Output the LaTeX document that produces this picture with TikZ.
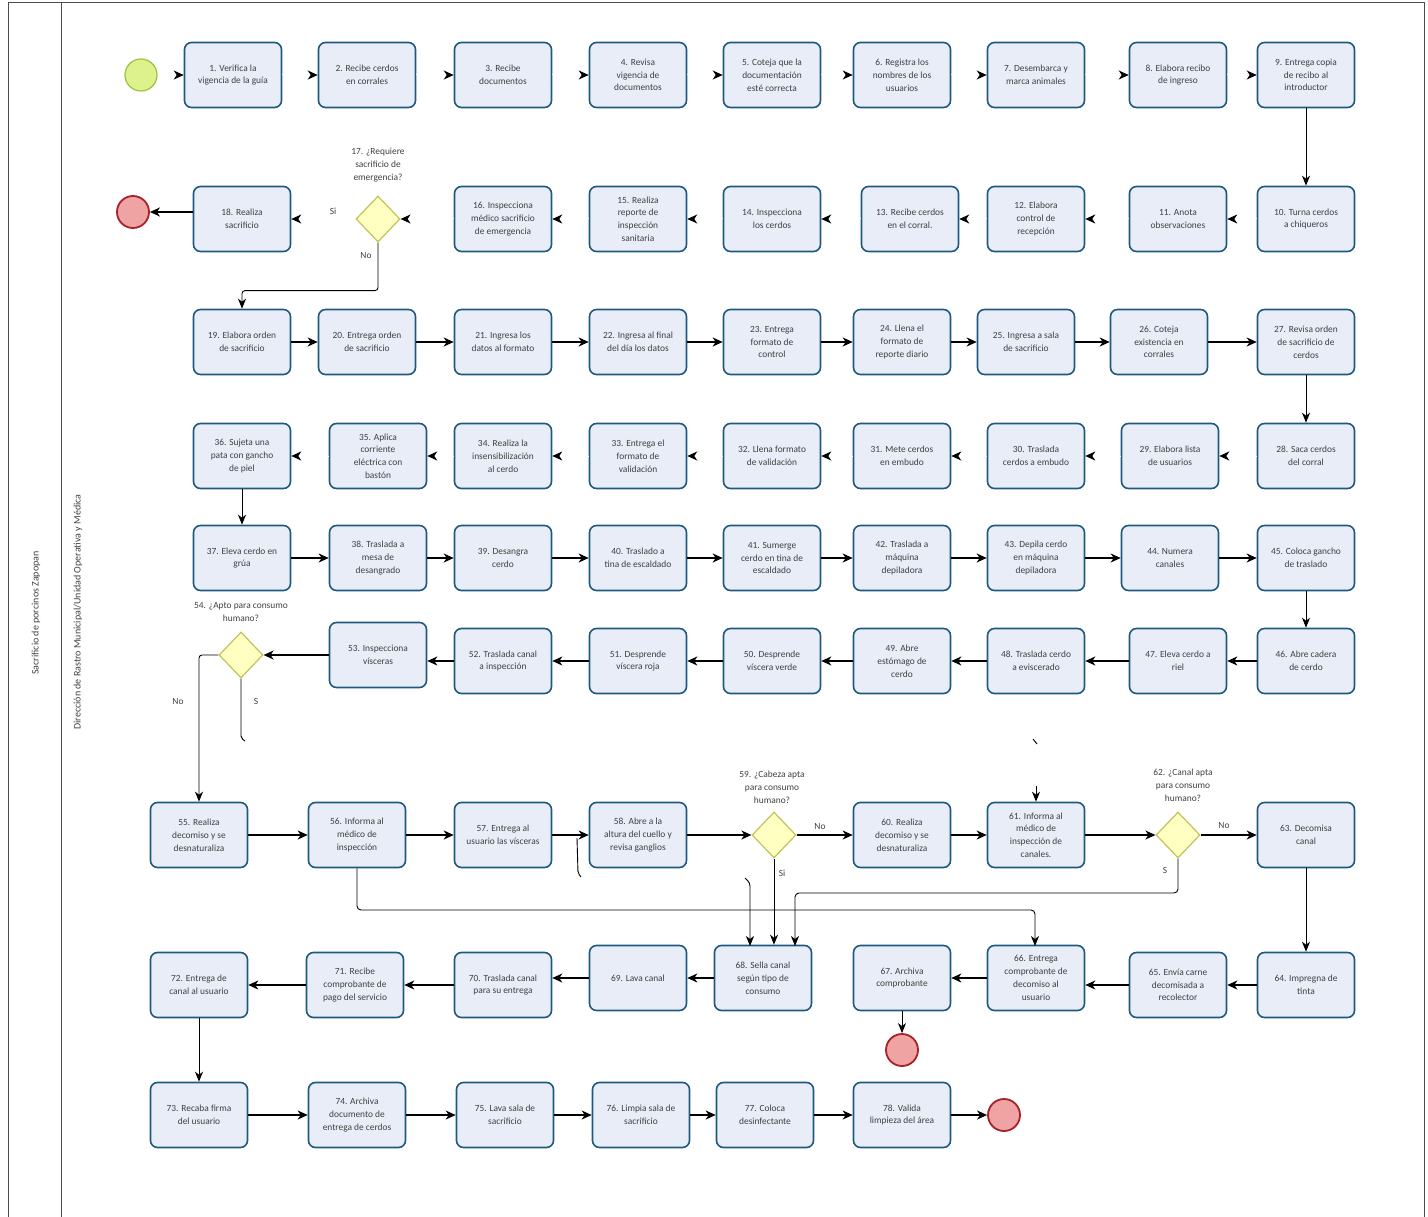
\documentclass[tikz,border=0pt]{standalone}
\usepackage{fontspec}
\setmainfont{Carlito}
\usetikzlibrary{arrows.meta,shapes.geometric}
\definecolor{boxb}{HTML}{1F5A7E}
\definecolor{boxf}{HTML}{E8EDF8}
\definecolor{gwb}{HTML}{C2C25A}
\definecolor{gwf}{HTML}{FFFFC2}
\definecolor{stb}{HTML}{9CC43A}
\definecolor{stf}{HTML}{DDF28C}
\definecolor{enb}{HTML}{A8202A}
\definecolor{enf}{HTML}{EFA3A3}
\definecolor{txt}{HTML}{404040}
\tikzset{
 box/.style={draw=boxb, fill=boxf, line width=1.6pt, rounded corners=7pt, minimum width=97pt, minimum height=65pt, align=center, font=\fontsize{9.4}{12.8}\selectfont, text=txt, inner sep=2pt},
 gw/.style={diamond, draw=gwb, fill=gwf, line width=1.2pt, minimum width=44pt, minimum height=46pt, inner sep=0pt},
 startev/.style={circle, draw=stb, fill=stf, line width=1.2pt, minimum size=32pt, inner sep=0pt},
 endev/.style={circle, draw=enb, fill=enf, line width=1.8pt, minimum size=32pt, inner sep=0pt},
 flow/.style={line width=1.6pt, -{Stealth[length=10pt,width=9pt,inset=3pt]}},
 vflow/.style={line width=0.9pt, -{Stealth[length=10pt,width=8pt,inset=3pt]}},
 ghost/.style={draw=white, line width=1pt, -{Stealth[length=10pt,width=9pt,inset=3pt,color=black]}},
 lbl/.style={font=\fontsize{9.4}{12.8}\selectfont, text=txt, align=center, inner sep=1pt},
 lane/.style={font=\fontsize{10}{12}\selectfont, text=txt, rotate=90},
}
\begin{document}
\begin{tikzpicture}[x=1pt,y=-1pt]
\useasboundingbox (0,0) rectangle (1428,1217);
\draw[line width=0.9pt, black!70] (8,2) rectangle (1424,1217);
\draw[line width=0.9pt, black!70] (61,2) -- (61,1217);
\node[lane] (pool) at (36,613) {Sacrificio de porcinos Zapopan};
\node[lane] (lanet) at (78,612) {Dirección de Rastro Municipal/Unidad Operativa y Médica};

% Row 1
\node[startev] (st) at (141,75) {};
\node[box] (n1) at (233,75) {1. Verifica la\\vigencia de la guía};
\node[box] (n2) at (367,75) {2. Recibe cerdos\\en corrales};
\node[box] (n3) at (503,75) {3. Recibe\\documentos};
\node[box] (n4) at (638,75) {4. Revisa\\vigencia de\\documentos};
\node[box] (n5) at (772,75) {5. Coteja que la\\documentación\\esté correcta};
\node[box] (n6) at (902,75) {6. Registra los\\nombres de los\\usuarios};
\node[box] (n7) at (1036,75) {7. Desembarca y\\marca animales};
\node[box] (n8) at (1178,75) {8. Elabora recibo\\de ingreso};
\node[box] (n9) at (1306,75) {9. Entrega copia\\de recibo al\\introductor};

% Row 2
\node[endev] (en1) at (133,212) {};
\node[box] (n18) at (242,219) {18. Realiza\\sacrificio};
\node[gw] (d17) at (378,219) {};
\node[lbl] (l17) at (378,165) {17. ¿Requiere\\sacrificio de\\emergencia?};
\node[box] (n16) at (503,219) {16. Inspecciona\\médico sacrificio\\de emergencia};
\node[box] (n15) at (638,219) {15. Realiza\\reporte de\\inspección\\sanitaria};
\node[box] (n14) at (772,219) {14. Inspecciona\\los cerdos};
\node[box] (n13) at (910,219) {13. Recibe cerdos\\en el corral.};
\node[box] (n12) at (1036,219) {12. Elabora\\control de\\recepción};
\node[box] (n11) at (1178,219) {11. Anota\\observaciones};
\node[box] (n10) at (1306,219) {10. Turna cerdos\\a chiqueros};

% Row 3
\node[box] (n19) at (242,342) {19. Elabora orden\\de sacrificio};
\node[box] (n20) at (367,342) {20. Entrega orden\\de sacrificio};
\node[box] (n21) at (503,342) {21. Ingresa los\\datos al formato};
\node[box] (n22) at (638,342) {22. Ingresa al final\\del día los datos};
\node[box] (n23) at (772,342) {23. Entrega\\formato de\\control};
\node[box] (n24) at (902,342) {24. Llena el\\formato de\\reporte diario};
\node[box] (n25) at (1026,342) {25. Ingresa a sala\\de sacrificio};
\node[box] (n26) at (1159,342) {26. Coteja\\existencia en\\corrales};
\node[box] (n27) at (1306,342) {27. Revisa orden\\de sacrificio de\\cerdos};

% Row 4
\node[box] (n36) at (242,456) {36. Sujeta una\\pata con gancho\\de piel};
\node[box] (n35) at (378,456) {35. Aplica\\corriente\\eléctrica con\\bastón};
\node[box] (n34) at (503,456) {34. Realiza la\\insensibilización\\al cerdo};
\node[box] (n33) at (638,456) {33. Entrega el\\formato de\\validación};
\node[box] (n32) at (772,456) {32. Llena formato\\de validación};
\node[box] (n31) at (902,456) {31. Mete cerdos\\en embudo};
\node[box] (n30) at (1036,456) {30. Traslada\\cerdos a embudo};
\node[box] (n29) at (1170,456) {29. Elabora lista\\de usuarios};
\node[box] (n28) at (1306,456) {28. Saca cerdos\\del corral};

% Row 5
\node[box] (n37) at (242,558) {37. Eleva cerdo en\\grúa};
\node[box] (n38) at (378,558) {38. Traslada a\\mesa de\\desangrado};
\node[box] (n39) at (503,558) {39. Desangra\\cerdo};
\node[box] (n40) at (638,558) {40. Traslado a\\tina de escaldado};
\node[box] (n41) at (772,558) {41. Sumerge\\cerdo en tina de\\escaldado};
\node[box] (n42) at (902,558) {42. Traslada a\\máquina\\depiladora};
\node[box] (n43) at (1036,558) {43. Depila cerdo\\en máquina\\depiladora};
\node[box] (n44) at (1170,558) {44. Numera\\canales};
\node[box] (n45) at (1306,558) {45. Coloca gancho\\de traslado};

% Row 6
\node[gw] (d54) at (241,655) {};
\node[lbl] (l54) at (241,612) {54. ¿Apto para consumo\\humano?};
\node[box] (n53) at (378,655) {53. Inspecciona\\vísceras};
\node[box] (n52) at (503,661) {52. Traslada canal\\a inspección};
\node[box] (n51) at (638,661) {51. Desprende\\víscera roja};
\node[box] (n50) at (772,661) {50. Desprende\\víscera verde};
\node[box] (n49) at (902,661) {49. Abre\\estómago de\\cerdo};
\node[box] (n48) at (1036,661) {48. Traslada cerdo\\a eviscerado};
\node[box] (n47) at (1178,661) {47. Eleva cerdo a\\riel};
\node[box] (n46) at (1306,661) {46. Abre cadera\\de cerdo};

% Row 7
\node[box] (n55) at (199,835) {55. Realiza\\decomiso y se\\desnaturaliza};
\node[box] (n56) at (357,835) {56. Informa al\\médico de\\inspección};
\node[box] (n57) at (503,835) {57. Entrega al\\usuario las vísceras};
\node[box] (n58) at (638,835) {58. Abre a la\\altura del cuello y\\revisa ganglios};
\node[gw] (d59) at (774,835) {};
\node[lbl] (l59) at (772,787) {59. ¿Cabeza apta\\para consumo\\humano?};
\node[box] (n60) at (902,835) {60. Realiza\\decomiso y se\\desnaturaliza};
\node[box] (n61) at (1036,835) {61. Informa al\\médico de\\inspección de\\canales.};
\node[gw] (d62) at (1178,835) {};
\node[lbl] (l62) at (1183,785) {62. ¿Canal apta\\para consumo\\humano?};
\node[box] (n63) at (1306,835) {63. Decomisa\\canal};

% Row 8
\node[box] (n72) at (199,985) {72. Entrega de\\canal al usuario};
\node[box] (n71) at (355,985) {71. Recibe\\comprobante de\\pago del servicio};
\node[box] (n70) at (503,985) {70. Traslada canal\\para su entrega};
\node[box] (n69) at (638,978) {69. Lava canal};
\node[box] (n68) at (763,978) {68. Sella canal\\según tipo de\\consumo};
\node[box] (n67) at (902,978) {67. Archiva\\comprobante};
\node[box] (n66) at (1036,978) {66. Entrega\\comprobante de\\decomiso al\\usuario};
\node[box] (n65) at (1178,985) {65. Envía carne\\decomisada a\\recolector};
\node[box] (n64) at (1306,985) {64. Impregna de\\tinta};
\node[endev] (en2) at (902,1050) {};

% Row 9
\node[box] (n73) at (199,1115) {73. Recaba firma\\del usuario};
\node[box] (n74) at (357,1115) {74. Archiva\\documento de\\entrega de cerdos};
\node[box] (n75) at (505,1115) {75. Lava sala de\\sacrificio};
\node[box] (n76) at (641,1115) {76. Limpia sala de\\sacrificio};
\node[box] (n77) at (765,1115) {77. Coloca\\desinfectante};
\node[box] (n78) at (902,1115) {78. Valida\\limpieza del área};
\node[endev] (en3) at (1004,1115) {};

% Connectors row 1
\draw[ghost] (st) -- (n1);
\draw[ghost] (n1) -- (n2);
\draw[ghost] (n2) -- (n3);
\draw[ghost] (n3) -- (n4);
\draw[ghost] (n4) -- (n5);
\draw[ghost] (n5) -- (n6);
\draw[ghost] (n6) -- (n7);
\draw[ghost] (n7) -- (n8);
\draw[ghost] (n8) -- (n9);
\draw[vflow] (n9) -- (n10);
% row 2
\draw[ghost] (n10) -- (n11);
\draw[ghost] (n11) -- (n12);
\draw[ghost] (n12) -- (n13);
\draw[ghost] (n13) -- (n14);
\draw[ghost] (n14) -- (n15);
\draw[ghost] (n15) -- (n16);
\draw[ghost] (n16) -- (d17);
\draw[ghost] (d17) -- (n18);
\node[lbl] (si17) at (333,211) {Si};
\draw[flow] (en1 -| n18.west) -- (en1);
\draw[vflow, rounded corners=3pt] (d17.south) -- ++(0,48) -| (n19.north);
\node[lbl] (no17) at (366,256) {No};
% row 3
\draw[flow] (n19) -- (n20);
\draw[flow] (n20) -- (n21);
\draw[flow] (n21) -- (n22);
\draw[flow] (n22) -- (n23);
\draw[flow] (n23) -- (n24);
\draw[flow] (n24) -- (n25);
\draw[flow] (n25) -- (n26);
\draw[flow] (n26) -- (n27);
\draw[vflow] (n27) -- (n28);
% row 4
\draw[ghost] (n28) -- (n29);
\draw[ghost] (n29) -- (n30);
\draw[ghost] (n30) -- (n31);
\draw[ghost] (n31) -- (n32);
\draw[ghost] (n32) -- (n33);
\draw[ghost] (n33) -- (n34);
\draw[ghost] (n34) -- (n35);
\draw[ghost] (n35) -- (n36);
\draw[vflow] (n36) -- (n37);
% row 5
\draw[flow] (n37) -- (n38);
\draw[flow] (n38) -- (n39);
\draw[flow] (n39) -- (n40);
\draw[flow] (n40) -- (n41);
\draw[flow] (n41) -- (n42);
\draw[flow] (n42) -- (n43);
\draw[flow] (n43) -- (n44);
\draw[flow] (n44) -- (n45);
\draw[vflow] (n45) -- (n46);
% row 6
\draw[flow] (n46) -- (n47);
\draw[flow] (n47) -- (n48);
\draw[flow] (n48) -- (n49);
\draw[flow] (n49) -- (n50);
\draw[flow] (n50) -- (n51);
\draw[flow] (n51) -- (n52);
\draw[flow] (n52.west) -- (n52.west -| n53.east);
\draw[flow] (n53) -- (d54);
\draw[vflow, rounded corners=3pt] (d54.west) -| (n55.north);
\node[lbl] (no54) at (178,702) {No};
\draw[line width=0.9pt, rounded corners=2pt] (d54.south) -- (241,738) -- (245,741);
\node[lbl] (si54) at (256,701) {S};
\coordinate (stubA) at (1033,739);
\coordinate (stubB) at (1037,744);
\draw[line width=0.9pt] (stubA) -- (stubB);
\coordinate (stubC) at (1036,786);
\draw[vflow] (stubC) -- (n61.north);
% row 7
\draw[flow] (n55) -- (n56);
\draw[flow] (n56) -- (n57);
\draw[flow] (n57) -- (n58);
\draw[flow] (n58) -- (d59);
\draw[flow] (d59) -- (n60);
\node[lbl] (no59) at (820,827) {No};
\draw[flow] (n60) -- (n61);
\draw[flow] (n61) -- (d62);
\draw[flow] (d62) -- (n63);
\node[lbl] (no62) at (1224,826) {No};
\coordinate (stubD) at (577,838);
\draw[line width=0.9pt, rounded corners=2pt] (stubD) -- (578,873) -- (581,877);
\draw[vflow, rounded corners=4pt] (n56.south) -- (357,910) -- (1035,910) -- (1035,946);
\draw[vflow] (d59.south) -- (d59.south |- n68.north);
\node[lbl] (si59) at (782,873) {Si};
\coordinate (stubE) at (745,878);
\draw[vflow, rounded corners=3pt] (stubE) -- (750,883) -- (750,946);
\draw[vflow, rounded corners=4pt] (d62.south) -- (1178,893) -- (795,893) -- (795,946);
\node[lbl] (si62) at (1165,870) {S};
\draw[vflow] (n63) -- (n64);
% row 8
\draw[flow] (n64) -- (n65);
\draw[flow] (n65.west) -- (n65.west -| n66.east);
\draw[flow] (n66) -- (n67);
\draw[flow] (n68) -- (n69);
\draw[flow] (n69.west) -- (n69.west -| n70.east);
\draw[flow] (n70) -- (n71);
\draw[flow] (n71) -- (n72);
\draw[vflow] (n67) -- (en2);
\draw[vflow] (n72) -- (n73);
% row 9
\draw[flow] (n73) -- (n74);
\draw[flow] (n74) -- (n75);
\draw[flow] (n75) -- (n76);
\draw[flow] (n76) -- (n77);
\draw[flow] (n77) -- (n78);
\draw[flow] (n78) -- (en3);
\end{tikzpicture}
\end{document}
